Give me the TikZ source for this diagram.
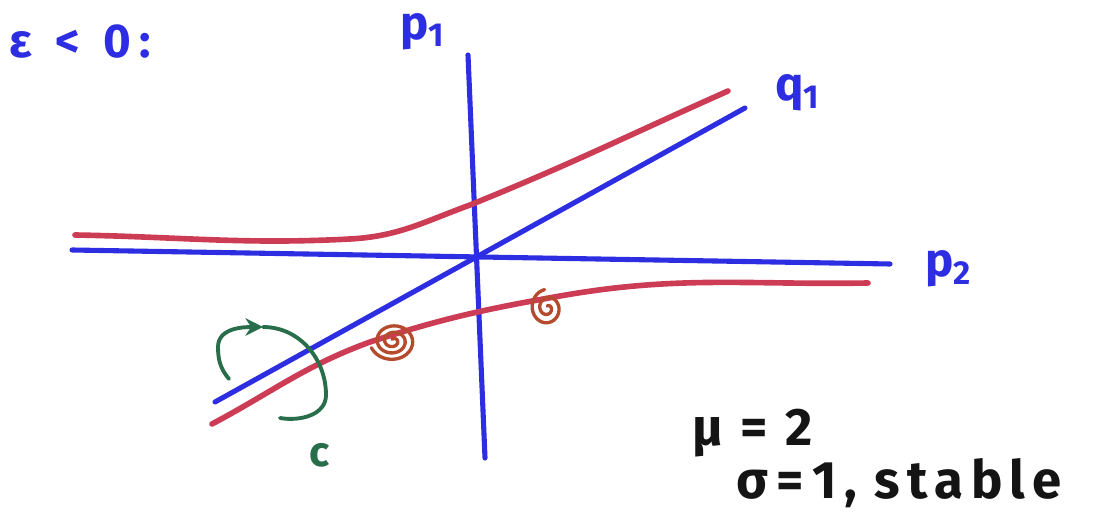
\documentclass[tikz,border=0pt]{standalone}
\usepackage{fontspec}
\setmainfont{Fira Sans}
\usepackage{tikz}
\usetikzlibrary{
  arrows.meta,
  positioning,
  calc
}
\definecolor{sketchblue}{RGB}{45,45,225}
\definecolor{sketchred}{RGB}{205,60,85}
\definecolor{sketchgreen}{RGB}{40,110,75}
\definecolor{sketchbrown}{RGB}{180,75,45}
\definecolor{sketchblack}{RGB}{20,20,20}
\tikzset{
  axis/.style={
    draw=sketchblue, line width=2.9pt, line cap=round
  },
  branch/.style={
    draw=sketchred, line width=3.2pt, line cap=round
  },
  swirl/.style={
    draw=sketchbrown, line width=1.9pt, line cap=round
  },
  turn/.style={
    draw=sketchgreen, line width=2.2pt, line cap=round
  },
  bluelabel/.style={
    text=sketchblue, font=\fontsize{27}{29}\selectfont\bfseries, inner sep=0pt
  },
  blacklabel/.style={
    text=sketchblack,
    font=\fontsize{30}{32}\selectfont\bfseries\addfontfeature{LetterSpace=14},
    inner sep=0pt
  }
}

\begin{document}
\begin{tikzpicture}
  \useasboundingbox (0,0) rectangle (22.12,10.28);

  % Axes p1, p2 and the line q1
  \coordinate (p1top) at (9.36,9.18);
  \coordinate (p1bot) at (9.70,1.12);
  \coordinate (p2lft) at (1.44,5.28);
  \coordinate (p2rgt) at (17.80,5.00);
  \coordinate (q1lft) at (4.30,2.24);
  \coordinate (q1rgt) at (14.90,8.12);
  \draw[axis] (p1top) -- (p1bot);
  \draw[axis] (p2lft) -- (p2rgt);
  \draw[axis] (q1lft) -- (q1rgt);

  % Upper branch
  \coordinate (up1) at (1.50,5.58);
  \coordinate (up2) at (7.00,5.50);
  \coordinate (up3) at (9.40,6.18);
  \coordinate (up4) at (14.56,8.46);
  \draw[branch] (up1) to[out=-1,in=183] (up2)
        to[out=3,in=200] (up3) to[out=22,in=204] (up4);

  % Lower branch
  \coordinate (lo1) at (4.24,1.80);
  \coordinate (lo2) at (7.40,3.44);
  \coordinate (lo3) at (11.20,4.36);
  \coordinate (lo4) at (17.36,4.62);
  \draw[branch] (lo1) to[out=28,in=200] (lo2)
        to[out=18,in=190] (lo3) to[out=10,in=181] (lo4);

  % Spirals on the lower branch
  \draw[swirl, shift={(7.86,3.46)}, yscale=0.85]
        plot[domain=0:1000, samples=90, smooth]
        ({0.46*(1-\x/1100)*cos(\x+200)}, {0.46*(1-\x/1100)*sin(\x+200)});
  \draw[swirl, shift={(10.95,4.12)}, yscale=1.1]
        plot[domain=0:720, samples=70, smooth]
        ({0.34*(1-\x/800)*cos(\x+100)}, {0.34*(1-\x/800)*sin(\x+100)});

  % Rotation c round q1
  \coordinate (c1) at (4.58,2.70);
  \coordinate (c2) at (4.36,3.34);
  \coordinate (c3) at (5.26,3.74);
  \coordinate (c4) at (6.52,2.38);
  \coordinate (c5) at (5.60,1.92);
  \draw[turn, -{Stealth[length=10pt,width=10pt]}] (c1) to[out=130,in=-90] (c2)
        to[out=90,in=180] (c3);
  \draw[turn] (c3) to[out=0,in=90] (c4) to[out=-90,in=-10] (c5);
  \node[text=sketchgreen, font=\fontsize{24}{26}\selectfont\bfseries,
        inner sep=0pt] (clab) at (6.40,1.18) {c};

  % Labels
  \node[bluelabel] (eps) at (1.60,9.44) {ε\,\,\,<\,\,\,0\,:};
  \node[bluelabel, above left=0.1cm and 0.45cm of p1top] (p1lab) {p\textsubscript{1}};
  \node[bluelabel, right=0.6cm of q1rgt, yshift=0.3cm] (q1lab) {q\textsubscript{1}};
  \node[bluelabel, right=0.7cm of p2rgt, yshift=-0.1cm] (p2lab) {p\textsubscript{2}};
  \node[blacklabel] (mulab) at (15.05,1.62) {μ\,\,=\,\,2};
  \node[blacklabel] (siglab) at (17.98,0.62) {σ\,=\,1,\,\,stable};
\end{tikzpicture}
\end{document}
